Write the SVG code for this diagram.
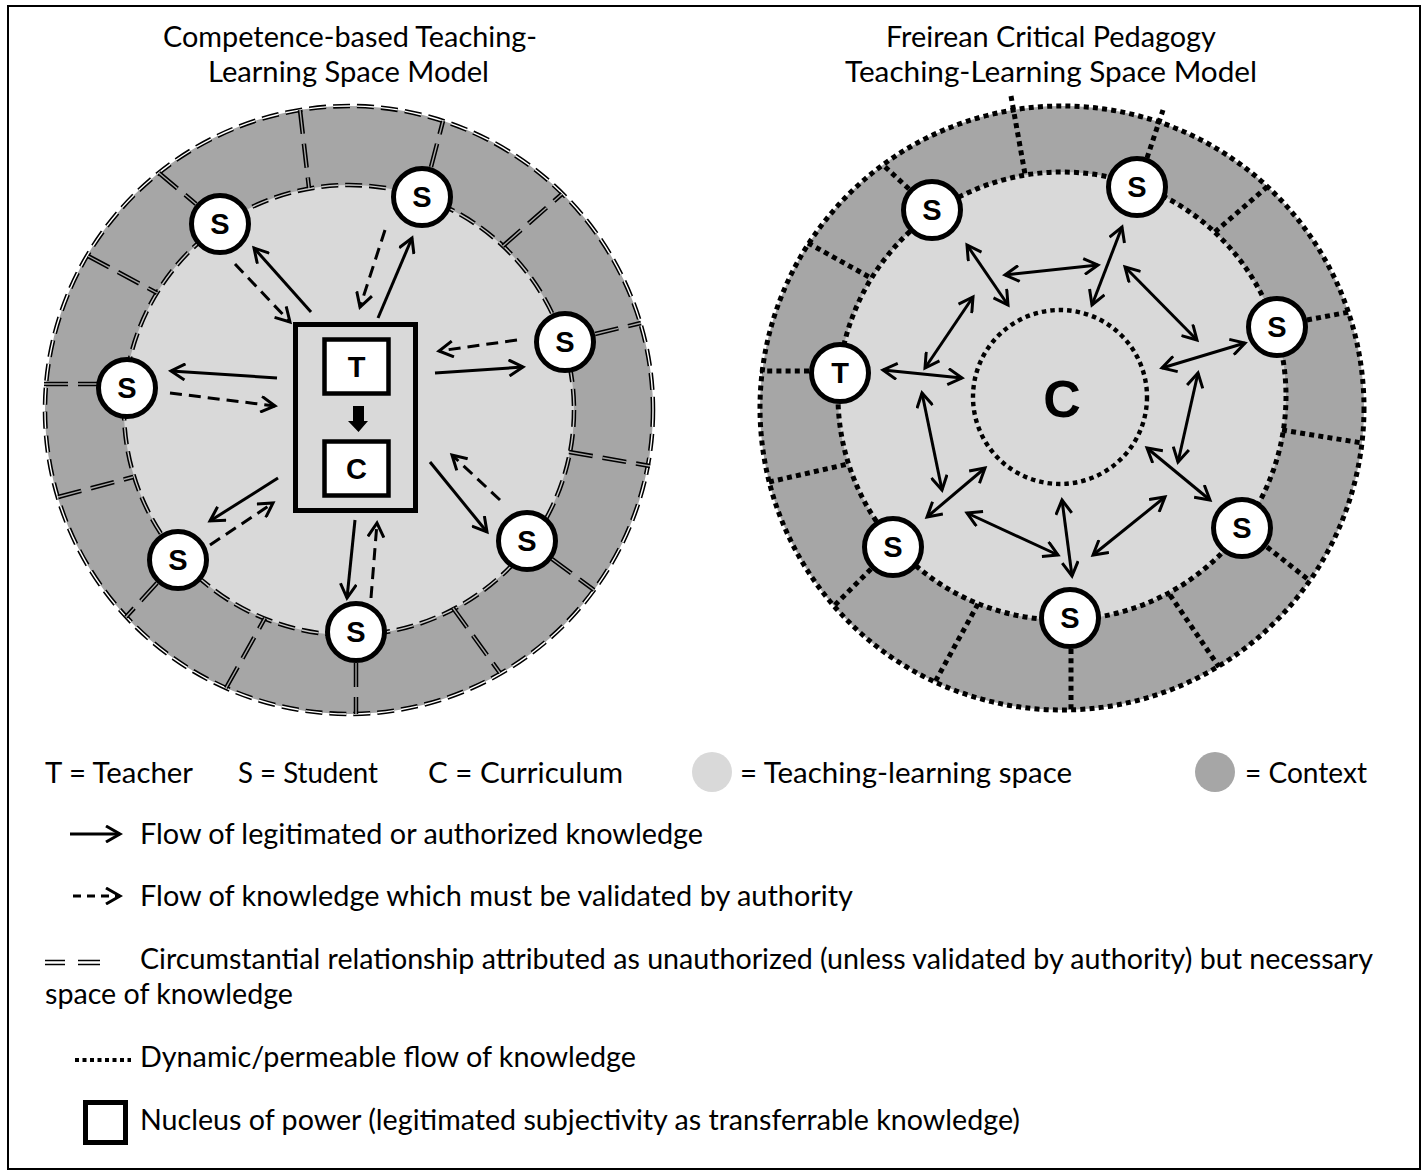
<svg xmlns="http://www.w3.org/2000/svg" width="1427" height="1175" viewBox="0 0 1427 1175">
<style>
.lbl{font-family:"Lato","Liberation Sans",sans-serif;font-size:28px;fill:#000}
.nt{font-family:"Liberation Sans","Arial",sans-serif;font-weight:bold;font-size:29px;text-anchor:middle;fill:#000}
.node{fill:#fff;stroke:#000;stroke-width:5}
.box{fill:#fff;stroke:#000;stroke-width:4.5}
.sol{fill:none;stroke:#000;stroke-width:3;marker-end:url(#ah)}
.dsh{fill:none;stroke:#000;stroke-width:3;stroke-dasharray:12 7;marker-end:url(#ah)}
.dbl{fill:none;stroke:#000;stroke-width:4.5;stroke-dasharray:24 10}
.dblin{fill:none;stroke:#a6a6a6;stroke-width:1.4;stroke-dasharray:24 10}
.dot{fill:none;stroke:#000;stroke-width:5;stroke-dasharray:5 4.2}
.bi{fill:none;stroke:#000;stroke-width:3;marker-start:url(#ah);marker-end:url(#ah)}
</style>
<defs>
<marker id="ah" viewBox="0 0 18 18" refX="15" refY="9" markerWidth="18" markerHeight="18" markerUnits="userSpaceOnUse" orient="auto-start-reverse">
<path d="M1,1 L15,9 L1,17" fill="none" stroke="#000" stroke-width="3"/>
</marker>
</defs>
<rect x="0" y="0" width="1427" height="1175" fill="#fff"/>
<rect x="8" y="6" width="1412" height="1163" fill="none" stroke="#000" stroke-width="2"/>

<g id="titles">
<text class="lbl" x="163" y="47" textLength="374" lengthAdjust="spacingAndGlyphs">Competence-based Teaching-</text>
<text class="lbl" x="208" y="82" textLength="281" lengthAdjust="spacingAndGlyphs">Learning Space Model</text>
<text class="lbl" x="886" y="47" textLength="330" lengthAdjust="spacingAndGlyphs">Freirean Critical Pedagogy</text>
<text class="lbl" x="845" y="82" textLength="412" lengthAdjust="spacingAndGlyphs">Teaching-Learning Space Model</text>
</g>

<g id="left-context">
<circle cx="349" cy="410" r="304" fill="#a6a6a6"/>
<circle cx="349" cy="410" r="225" fill="#d9d9d9"/>
<circle cx="349" cy="410" r="304" fill="none" stroke="#000" stroke-width="4.5" stroke-dasharray="17 7"/>
<circle cx="349" cy="410" r="304" fill="none" stroke="#fff" stroke-width="1.4" stroke-dasharray="17 7"/>
<circle cx="349" cy="410" r="225" fill="none" stroke="#000" stroke-width="4.5" stroke-dasharray="17 7"/>
<circle cx="349" cy="410" r="225" fill="none" stroke="#c8c8c8" stroke-width="1.4" stroke-dasharray="17 7"/>
</g>
<g id="left-dividers">
<path class="dbl" d="M300,110L309,188M159,173L196,204M88,256L157,293M44,384L97,384M58,497L133,477M157,583L126,617M226,688L265,618M356,663L356,714M453,608L500,673M552,559L594,590M569,452L650,466M595,334L641,323M503,246L562,194M431,167L443,121"/>
<path class="dblin" d="M300,110L309,188M159,173L196,204M88,256L157,293M44,384L97,384M58,497L133,477M157,583L126,617M226,688L265,618M356,663L356,714M453,608L500,673M552,559L594,590M569,452L650,466M595,334L641,323M503,246L562,194M431,167L443,121"/>
</g>
<g id="left-connectors">
<line class="sol" x1="311" y1="312" x2="254" y2="248"/>
<line class="dsh" x1="235" y1="264" x2="290" y2="322"/>
<line class="dsh" x1="385" y1="230" x2="360" y2="307"/>
<line class="sol" x1="378" y1="318" x2="412" y2="238"/>
<line class="dsh" x1="517" y1="340" x2="439" y2="351"/>
<line class="sol" x1="435" y1="373" x2="523" y2="367"/>
<line class="sol" x1="277" y1="378" x2="171" y2="371"/>
<line class="dsh" x1="170" y1="393" x2="275" y2="406"/>
<line class="sol" x1="278" y1="478" x2="210" y2="521"/>
<line class="dsh" x1="210" y1="545" x2="273" y2="503"/>
<line class="sol" x1="355" y1="520" x2="347" y2="598"/>
<line class="dsh" x1="371" y1="598" x2="377" y2="523"/>
<line class="sol" x1="430" y1="462" x2="487" y2="532"/>
<line class="dsh" x1="500" y1="500" x2="452" y2="455"/>
</g>
<g id="left-nucleus">
<rect x="295.5" y="324.5" width="120" height="186" fill="#d9d9d9" stroke="#000" stroke-width="5"/>
<g id="left-T"><rect class="box" x="324.5" y="339.5" width="64" height="54"/><text class="nt" x="356.5" y="377">T</text></g>
<polygon points="353,406 364,406 364,421 368,421 358.5,432 348,421 353,421" fill="#000"/>
<g id="left-C"><rect class="box" x="324.5" y="441.5" width="64" height="54"/><text class="nt" x="356.5" y="479">C</text></g>
</g>
<g id="left-S1"><circle class="node" cx="220" cy="224" r="28.5"/><text class="nt" x="220" y="234">S</text></g>
<g id="left-S2"><circle class="node" cx="422" cy="197" r="28.5"/><text class="nt" x="422" y="207">S</text></g>
<g id="left-S3"><circle class="node" cx="565" cy="342" r="28.5"/><text class="nt" x="565" y="352">S</text></g>
<g id="left-S4"><circle class="node" cx="127" cy="388" r="28.5"/><text class="nt" x="127" y="398">S</text></g>
<g id="left-S5"><circle class="node" cx="178" cy="560" r="28.5"/><text class="nt" x="178" y="570">S</text></g>
<g id="left-S6"><circle class="node" cx="356" cy="632" r="28.5"/><text class="nt" x="356" y="642">S</text></g>
<g id="left-S7"><circle class="node" cx="527" cy="541" r="28.5"/><text class="nt" x="527" y="551">S</text></g>

<g id="right-context">
<circle cx="1062" cy="408" r="302" fill="#a6a6a6"/>
<circle cx="1062" cy="396" r="224" fill="#d9d9d9"/>
<circle class="dot" cx="1062" cy="408" r="302"/>
<circle class="dot" cx="1062" cy="396" r="224"/>
</g>
<g id="right-dividers">
<path class="dot" d="M1011,96L1025,174M909,189L882,164M808,243L871,278M809,371L760,371M1147,158L1163,110M1215,232L1268,186M1307,320L1349,312M1282,430L1362,443M1267,547L1310,581M1170,595L1219,667M1071,649L1071,710M978,604L935,682M871,569L834,606M769,482L848,464"/>
</g>
<g id="right-C">
<circle cx="1060" cy="397" r="87" fill="#d9d9d9" stroke="#000" stroke-width="4.4" stroke-dasharray="4.5 4"/>
<text class="nt" x="1062" y="417" style="font-size:52px">C</text>
</g>
<g id="right-connectors">
<line class="bi" x1="967" y1="245" x2="1008" y2="305"/>
<line class="bi" x1="1005" y1="275" x2="1098" y2="265"/>
<line class="bi" x1="973" y1="297" x2="925" y2="368"/>
<line class="bi" x1="883" y1="370" x2="962" y2="378"/>
<line class="bi" x1="1122" y1="227" x2="1092" y2="305"/>
<line class="bi" x1="1125" y1="267" x2="1197" y2="340"/>
<line class="bi" x1="1245" y1="343" x2="1162" y2="368"/>
<line class="bi" x1="1198" y1="373" x2="1178" y2="462"/>
<line class="bi" x1="1147" y1="448" x2="1210" y2="500"/>
<line class="bi" x1="1165" y1="497" x2="1093" y2="555"/>
<line class="bi" x1="1062" y1="500" x2="1072" y2="576"/>
<line class="bi" x1="922" y1="393" x2="942" y2="490"/>
<line class="bi" x1="927" y1="517" x2="985" y2="468"/>
<line class="bi" x1="967" y1="513" x2="1058" y2="555"/>
</g>
<g id="right-T"><circle class="node" cx="840" cy="373" r="28.5"/><text class="nt" x="840" y="383">T</text></g>
<g id="right-S1"><circle class="node" cx="932" cy="210" r="28.5"/><text class="nt" x="932" y="220">S</text></g>
<g id="right-S2"><circle class="node" cx="1137" cy="187" r="28.5"/><text class="nt" x="1137" y="197">S</text></g>
<g id="right-S3"><circle class="node" cx="1277" cy="327" r="28.5"/><text class="nt" x="1277" y="337">S</text></g>
<g id="right-S4"><circle class="node" cx="1242" cy="528" r="28.5"/><text class="nt" x="1242" y="538">S</text></g>
<g id="right-S5"><circle class="node" cx="1070" cy="618" r="28.5"/><text class="nt" x="1070" y="628">S</text></g>
<g id="right-S6"><circle class="node" cx="893" cy="547" r="28.5"/><text class="nt" x="893" y="557">S</text></g>

<g id="legend">
<text class="lbl" x="45" y="783" textLength="148" lengthAdjust="spacingAndGlyphs">T = Teacher</text>
<text class="lbl" x="238" y="783" textLength="140" lengthAdjust="spacingAndGlyphs">S = Student</text>
<text class="lbl" x="428" y="783" textLength="195" lengthAdjust="spacingAndGlyphs">C = Curriculum</text>
<circle cx="712" cy="772" r="20" fill="#d9d9d9"/>
<text class="lbl" x="740" y="783" textLength="332" lengthAdjust="spacingAndGlyphs">= Teaching-learning space</text>
<circle cx="1215" cy="772" r="20" fill="#a6a6a6"/>
<text class="lbl" x="1245" y="783" textLength="122" lengthAdjust="spacingAndGlyphs">= Context</text>

<line class="sol" x1="70" y1="834" x2="120" y2="834"/>
<text class="lbl" x="140" y="844" textLength="563" lengthAdjust="spacingAndGlyphs">Flow of legitimated or authorized knowledge</text>

<line class="dsh" x1="73" y1="896" x2="120" y2="896" style="stroke-dasharray:8 6"/>
<text class="lbl" x="140" y="906" textLength="713" lengthAdjust="spacingAndGlyphs">Flow of knowledge which must be validated by authority</text>

<path d="M45,960.5H65M45,964.5H65M78,960.5H100M78,964.5H100" stroke="#000" stroke-width="1.5" fill="none"/>
<text class="lbl" x="140" y="969" textLength="1233" lengthAdjust="spacingAndGlyphs">Circumstantial relationship attributed as unauthorized (unless validated by authority) but necessary</text>
<text class="lbl" x="45" y="1004" textLength="248" lengthAdjust="spacingAndGlyphs">space of knowledge</text>

<line x1="75" y1="1060" x2="131" y2="1060" class="dot" style="stroke-width:4;stroke-dasharray:4 3.5"/>
<text class="lbl" x="140" y="1067" textLength="496" lengthAdjust="spacingAndGlyphs">Dynamic/permeable flow of knowledge</text>

<rect x="85.5" y="1102.5" width="40" height="40" fill="none" stroke="#000" stroke-width="5"/>
<text class="lbl" x="140" y="1130" textLength="880" lengthAdjust="spacingAndGlyphs">Nucleus of power (legitimated subjectivity as transferrable knowledge)</text>
</g>
</svg>
